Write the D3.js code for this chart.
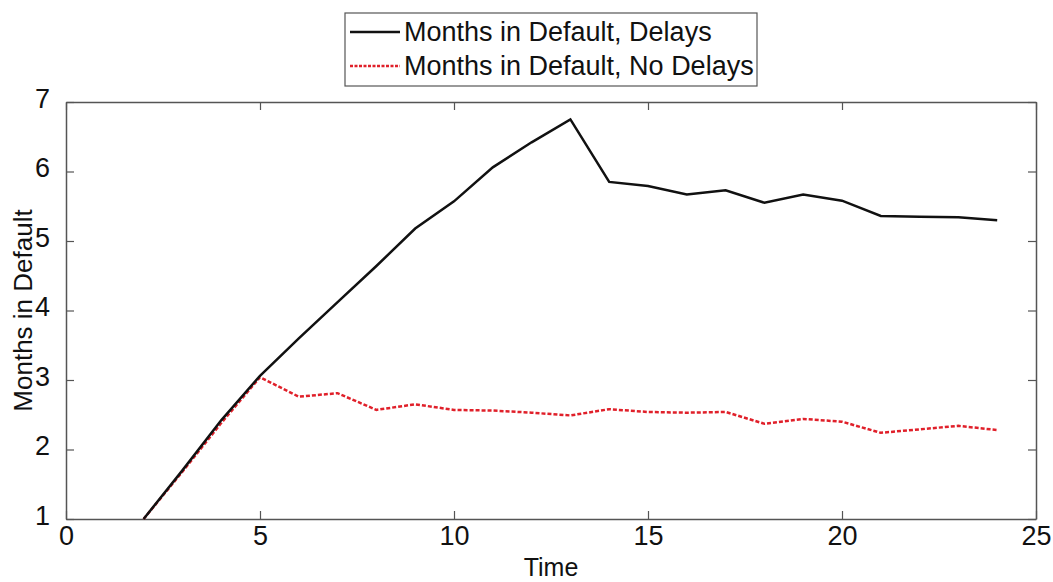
<!DOCTYPE html>
<html>
<head>
<meta charset="utf-8">
<script src="https://cdn.jsdelivr.net/npm/d3@7"></script>
<style>
body { margin: 0; background: #fff; }
text { font-family: "Liberation Sans", Arial, sans-serif; }
</style>
</head>
<body>
<div id="main_div"></div>
<script>
var time = [2, 3, 4, 5, 6, 7, 8, 9, 10, 11, 12, 13, 14, 15, 16, 17, 18, 19, 20, 21, 22, 23, 24];
var delays = [1.0, 1.7, 2.42, 3.06, 3.6, 4.12, 4.64, 5.18, 5.57, 6.06, 6.42, 6.75, 5.85, 5.79, 5.67, 5.73, 5.55, 5.67, 5.58, 5.36, 5.35, 5.34, 5.3];
var no_delays = [1.0, 1.68, 2.38, 3.04, 2.76, 2.81, 2.57, 2.65, 2.57, 2.56, 2.53, 2.49, 2.58, 2.54, 2.53, 2.54, 2.37, 2.44, 2.4, 2.24, 2.29, 2.34, 2.28];
var x_ticks = [0, 5, 10, 15, 20, 25];
var y_ticks = [1, 2, 3, 4, 5, 6, 7];
var legend_labels = ["Months in Default, Delays", "Months in Default, No Delays"];

var W = 1053, H = 582;
var m_left = 66, m_right = 1036, m_top = 102, m_bottom = 519;

var x_scale = d3.scaleLinear().domain([0, 25]).range([m_left, m_right]);
var y_scale = d3.scaleLinear().domain([1, 7]).range([m_bottom, m_top]);

var svg = d3.select("#main_div").append("svg").attr("width", W).attr("height", H);

var axis_col = "#555";

// inward ticks on all four sides, like a boxed matlab plot
var g_x = svg.append("g").attr("transform", "translate(0," + m_bottom + ")")
    .call(d3.axisBottom(x_scale).tickValues(x_ticks).tickFormat(d3.format("d")).tickSizeInner(-8).tickSizeOuter(0).tickPadding(10));
var g_xt = svg.append("g").attr("transform", "translate(0," + m_top + ")")
    .call(d3.axisTop(x_scale).tickValues(x_ticks).tickSizeInner(-8).tickSizeOuter(0).tickFormat(""));
var g_y = svg.append("g").attr("transform", "translate(" + m_left + ",0)")
    .call(d3.axisLeft(y_scale).tickValues(y_ticks).tickFormat(d3.format("d")).tickSizeInner(-8).tickSizeOuter(0).tickPadding(16));
var g_yr = svg.append("g").attr("transform", "translate(" + m_right + ",0)")
    .call(d3.axisRight(y_scale).tickValues(y_ticks).tickSizeInner(-8).tickSizeOuter(0).tickFormat(""));

[g_x, g_xt, g_y, g_yr].forEach(function(g) {
    g.selectAll("path").attr("stroke", axis_col).attr("stroke-width", 1.5);
    g.selectAll("line").attr("stroke", axis_col).attr("stroke-width", 1.2);
    g.selectAll("text").attr("fill", "#111").style("font-size", "27px");
});
g_x.selectAll("text").attr("dy", "0.6em");
g_y.selectAll("text").attr("dy", "0.2em");

svg.append("text").attr("x", (m_left + m_right) / 2).attr("y", 576)
    .attr("text-anchor", "middle").style("font-size", "25px").attr("fill", "#111").text("Time");
svg.append("text").attr("transform", "translate(32," + ((m_top + m_bottom) / 2) + ") rotate(-90)")
    .attr("text-anchor", "middle").style("font-size", "26px").attr("fill", "#111").text("Months in Default");

var line_1 = d3.line().x(function(d, i) { return x_scale(time[i]); }).y(function(d) { return y_scale(d); });

svg.append("path").datum(no_delays).attr("d", line_1)
    .attr("fill", "none").attr("stroke", "#e0202a").attr("stroke-width", 2.5).attr("stroke-dasharray", "4,2");
svg.append("path").datum(delays).attr("d", line_1)
    .attr("fill", "none").attr("stroke", "#111").attr("stroke-width", 2.5);

// legend
var lg = svg.append("g");
lg.append("rect").attr("x", 345).attr("y", 13).attr("width", 412).attr("height", 73)
    .attr("fill", "#fff").attr("stroke", "#555").attr("stroke-width", 1.2);
var styles = [{c: "#111", dash: null}, {c: "#e0202a", dash: "3,1.5"}];
legend_labels.forEach(function(t, i) {
    var yy = 32 + i * 34;
    lg.append("line").attr("x1", 350).attr("x2", 400).attr("y1", yy).attr("y2", yy)
        .attr("stroke", styles[i].c).attr("stroke-width", 2.5).attr("stroke-dasharray", styles[i].dash);
    lg.append("text").attr("x", 404).attr("y", yy).attr("dy", "0.35em")
        .style("font-size", "27px").attr("fill", "#111").text(t);
});
</script>
</body>
</html>
